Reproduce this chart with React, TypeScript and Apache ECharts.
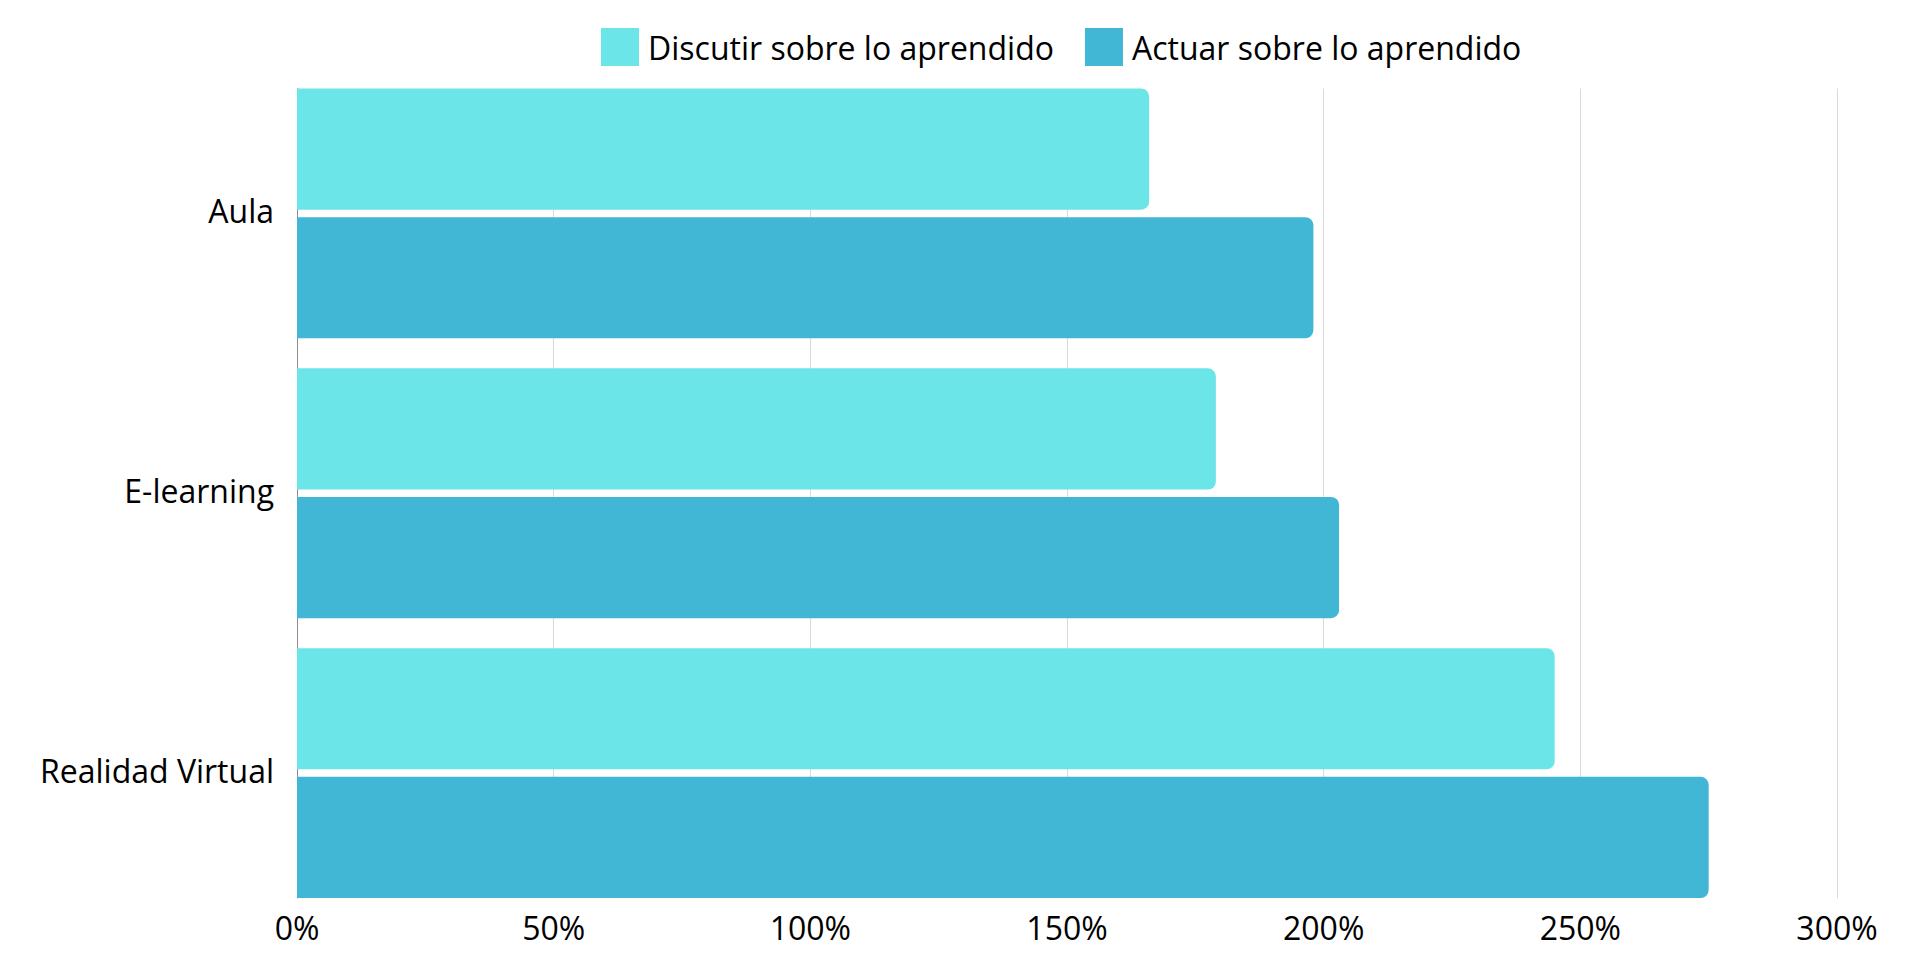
import React, { useEffect, useRef } from "react";
import * as echarts from "echarts";

const categories = ["Aula", "E-learning", "Realidad Virtual"];
const seriesNames = ["Discutir sobre lo aprendido", "Actuar sobre lo aprendido"];
const discutirValues = [166, 179, 245];
const actuarValues = [198, 203, 275];
const xTicks = { min: 0, max: 300, interval: 50 };
const colors = ["#6CE5E8", "#41B7D5"];

const FONT = "'Open Sans', 'Noto Sans', sans-serif";

export default function App() {
  const ref = useRef<HTMLDivElement>(null);

  useEffect(() => {
    if (!ref.current) return;
    const chart = echarts.init(ref.current, undefined, { renderer: "svg" });
    chart.setOption({
      animation: false,
      backgroundColor: "#ffffff",
      textStyle: { fontFamily: FONT },
      legend: {
        data: seriesNames,
        left: 596,
        top: 23,
        icon: "rect",
        itemWidth: 38,
        itemHeight: 38,
        itemGap: 31,
        textStyle: { fontSize: 32, color: "#000000", fontFamily: FONT, padding: [0, 0, 0, 4] },
      },
      grid: [
        { left: 297, right: 83, top: 73.5, bottom: 64, containLabel: false },
        { left: 297, right: 83, top: 88.5, bottom: 79, containLabel: false },
      ],
      xAxis: [
        {
          type: "value",
          gridIndex: 0,
          min: xTicks.min,
          max: xTicks.max,
          interval: xTicks.interval,
          show: false,
        },
        {
          type: "value",
          gridIndex: 1,
          min: xTicks.min,
          max: xTicks.max,
          interval: xTicks.interval,
          axisLine: { show: false },
          axisTick: { show: false },
          splitLine: { show: true, lineStyle: { color: "#DADADA", width: 1 } },
          axisLabel: {
            formatter: "{value}%",
            fontSize: 32,
            color: "#000000",
            fontFamily: FONT,
            margin: 13,
          },
        },
      ],
      yAxis: [
        {
          type: "category",
          gridIndex: 0,
          data: categories,
          inverse: true,
          axisLine: { show: false },
          axisTick: { show: false },
          splitLine: { show: false },
          axisLabel: {
            formatter: "{a|{value}}",
            margin: 23,
            rich: {
              a: {
                fontSize: 32,
                color: "#000000",
                fontFamily: FONT,
                padding: [0, 0, 6, 0],
              },
            },
          },
        },
        {
          type: "category",
          gridIndex: 1,
          data: categories,
          inverse: true,
          axisLine: { show: true, lineStyle: { color: "#8C8C8C", width: 1 } },
          axisTick: { show: false },
          axisLabel: { show: false },
          splitLine: { show: false },
        },
      ],
      series: [
        {
          name: seriesNames[0],
          type: "bar",
          xAxisIndex: 0,
          yAxisIndex: 0,
          data: discutirValues,
          barCategoryGap: "10.7%",
          barGap: "6.2%",
          itemStyle: { color: colors[0], borderRadius: [0, 8, 8, 0] },
          z: 3,
        },
        {
          name: seriesNames[1],
          type: "bar",
          xAxisIndex: 0,
          yAxisIndex: 0,
          data: actuarValues,
          barCategoryGap: "10.7%",
          barGap: "6.2%",
          itemStyle: { color: colors[1], borderRadius: [0, 8, 8, 0] },
          z: 3,
        },
      ],
    });
    return () => chart.dispose();
  }, []);

  return (
    <div
      ref={ref}
      style={{ position: "fixed", left: 0, top: 0, width: "1920px", height: "977px", background: "#fff" }}
    />
  );
}
